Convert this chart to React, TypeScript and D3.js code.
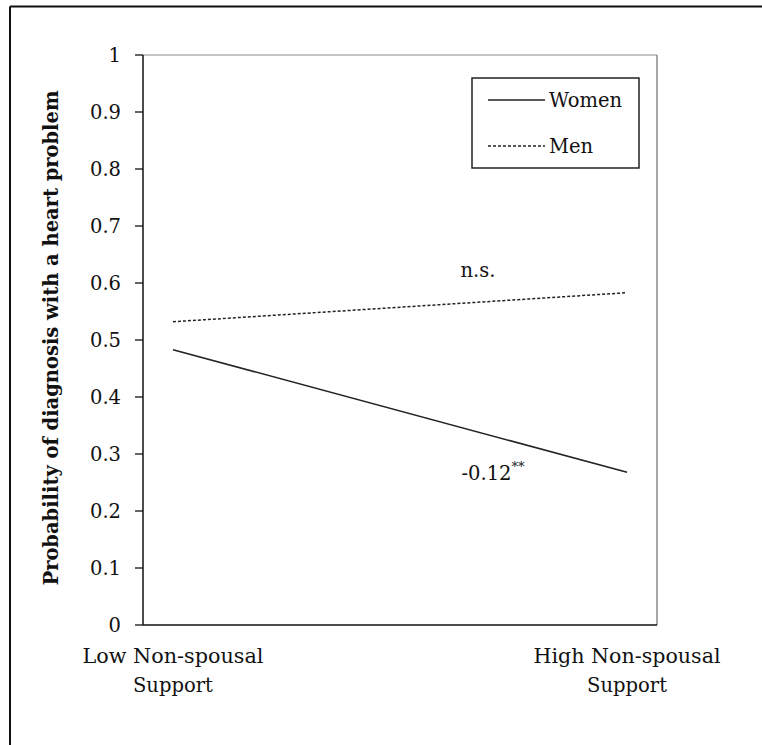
import React from "react";
import * as d3 from "d3";

const categories = ["Low", "High"];
const catLabels = [["Low Non-spousal", "Support"], ["High Non-spousal", "Support"]];
const catLabelLengths = [[181, 80], [187, 80]];
const womenValues = [0.483, 0.268];
const menValues = [0.532, 0.583];
const yTicks = [0, 0.1, 0.2, 0.3, 0.4, 0.5, 0.6, 0.7, 0.8, 0.9, 1];
const seriesNames = ["Women", "Men"];
const annotations = [
  { text: "n.s.", sup: "", x: 478, y: 277 },
  { text: "-0.12", sup: "**", x: 493, y: 480 },
];

const W = 762, H = 745;
const plot = { left: 143, right: 657, top: 55, bottom: 625 };
const FONT = "'DejaVu Serif', serif";
const ts = { fontFamily: FONT };

export default function App() {
  const x = d3.scalePoint<string>().domain(categories).range([plot.left, plot.right]).padding(0.066);
  const y = d3.scaleLinear().domain([0, 1]).range([plot.bottom, plot.top]);
  const line = d3.line<number>().x((_, i) => x(categories[i])!).y((d) => y(d));
  const data = [
    { name: seriesNames[0], values: womenValues, dash: undefined as string | undefined },
    { name: seriesNames[1], values: menValues, dash: "3,2" },
  ];
  return (
    <svg width={W} height={H} style={{ position: "absolute", left: 0, top: 0, background: "#fff", fontFamily: FONT }}>
      <rect x={0} y={0} width={W} height={H} fill="#fff" />
      <line x1={10} y1={6.5} x2={W} y2={6.5} stroke="#111" strokeWidth={2} />
      <line x1={10} y1={6.5} x2={10} y2={H} stroke="#111" strokeWidth={2} />
      <line x1={plot.left} y1={plot.top} x2={plot.right} y2={plot.top} stroke="#8a8a8a" strokeWidth={1.2} />
      <line x1={plot.right} y1={plot.top} x2={plot.right} y2={plot.bottom} stroke="#8a8a8a" strokeWidth={1.5} />
      <line x1={plot.left} y1={plot.top} x2={plot.left} y2={plot.bottom} stroke="#111" strokeWidth={1.5} />
      <line x1={plot.left} y1={plot.bottom} x2={plot.right} y2={plot.bottom} stroke="#111" strokeWidth={1.5} />
      {yTicks.map((t) => (
        <g key={t}>
          <line x1={plot.left - 8} x2={plot.left} y1={y(t)} y2={y(t)} stroke="#111" strokeWidth={1.3} />
          <text x={121} y={y(t)} dy="0.36em" textAnchor="end" fontSize={19.5} fill="#111" style={ts}>
            {String(t)}
          </text>
        </g>
      ))}
      {categories.map((c, i) => (
        <g key={c}>
          {catLabels[i].map((l, j) => (
            <text
              key={j}
              x={x(c)}
              y={663 + j * 29}
              textAnchor="middle"
              fontSize={19.5}
              fill="#111"
              style={ts}
              textLength={catLabelLengths[i][j]}
              lengthAdjust="spacingAndGlyphs"
            >
              {l}
            </text>
          ))}
        </g>
      ))}
      <text
        transform={`translate(58,${(plot.top + plot.bottom) / 2 - 2}) rotate(-90)`}
        textAnchor="middle"
        fontSize={20}
        fontWeight="bold"
        fill="#111"
        style={ts}
        textLength={495}
        lengthAdjust="spacingAndGlyphs"
      >
        Probability  of diagnosis with a heart problem
      </text>
      {data.map((s) => (
        <path key={s.name} d={line(s.values)!} fill="none" stroke="#222" strokeWidth={1.5} strokeDasharray={s.dash} />
      ))}
      {annotations.map((a) => (
        <text key={a.text} x={a.x} y={a.y} textAnchor="middle" fontSize={19.5} fill="#111" style={ts}>
          {a.text}
          {a.sup && (
            <tspan fontSize={13} dy={-9}>
              {a.sup}
            </tspan>
          )}
        </text>
      ))}
      <rect x={472} y={78} width={167} height={90} fill="#fff" stroke="#222" strokeWidth={1.5} />
      {data.map((s, i) => (
        <g key={s.name} transform={`translate(488,${100 + i * 46})`}>
          <line x1={0} x2={57} y1={0} y2={0} stroke="#222" strokeWidth={1.5} strokeDasharray={s.dash} />
          <text x={61} y={0} dy="0.35em" fontSize={19.5} fill="#111" style={ts}>
            {s.name}
          </text>
        </g>
      ))}
    </svg>
  );
}
